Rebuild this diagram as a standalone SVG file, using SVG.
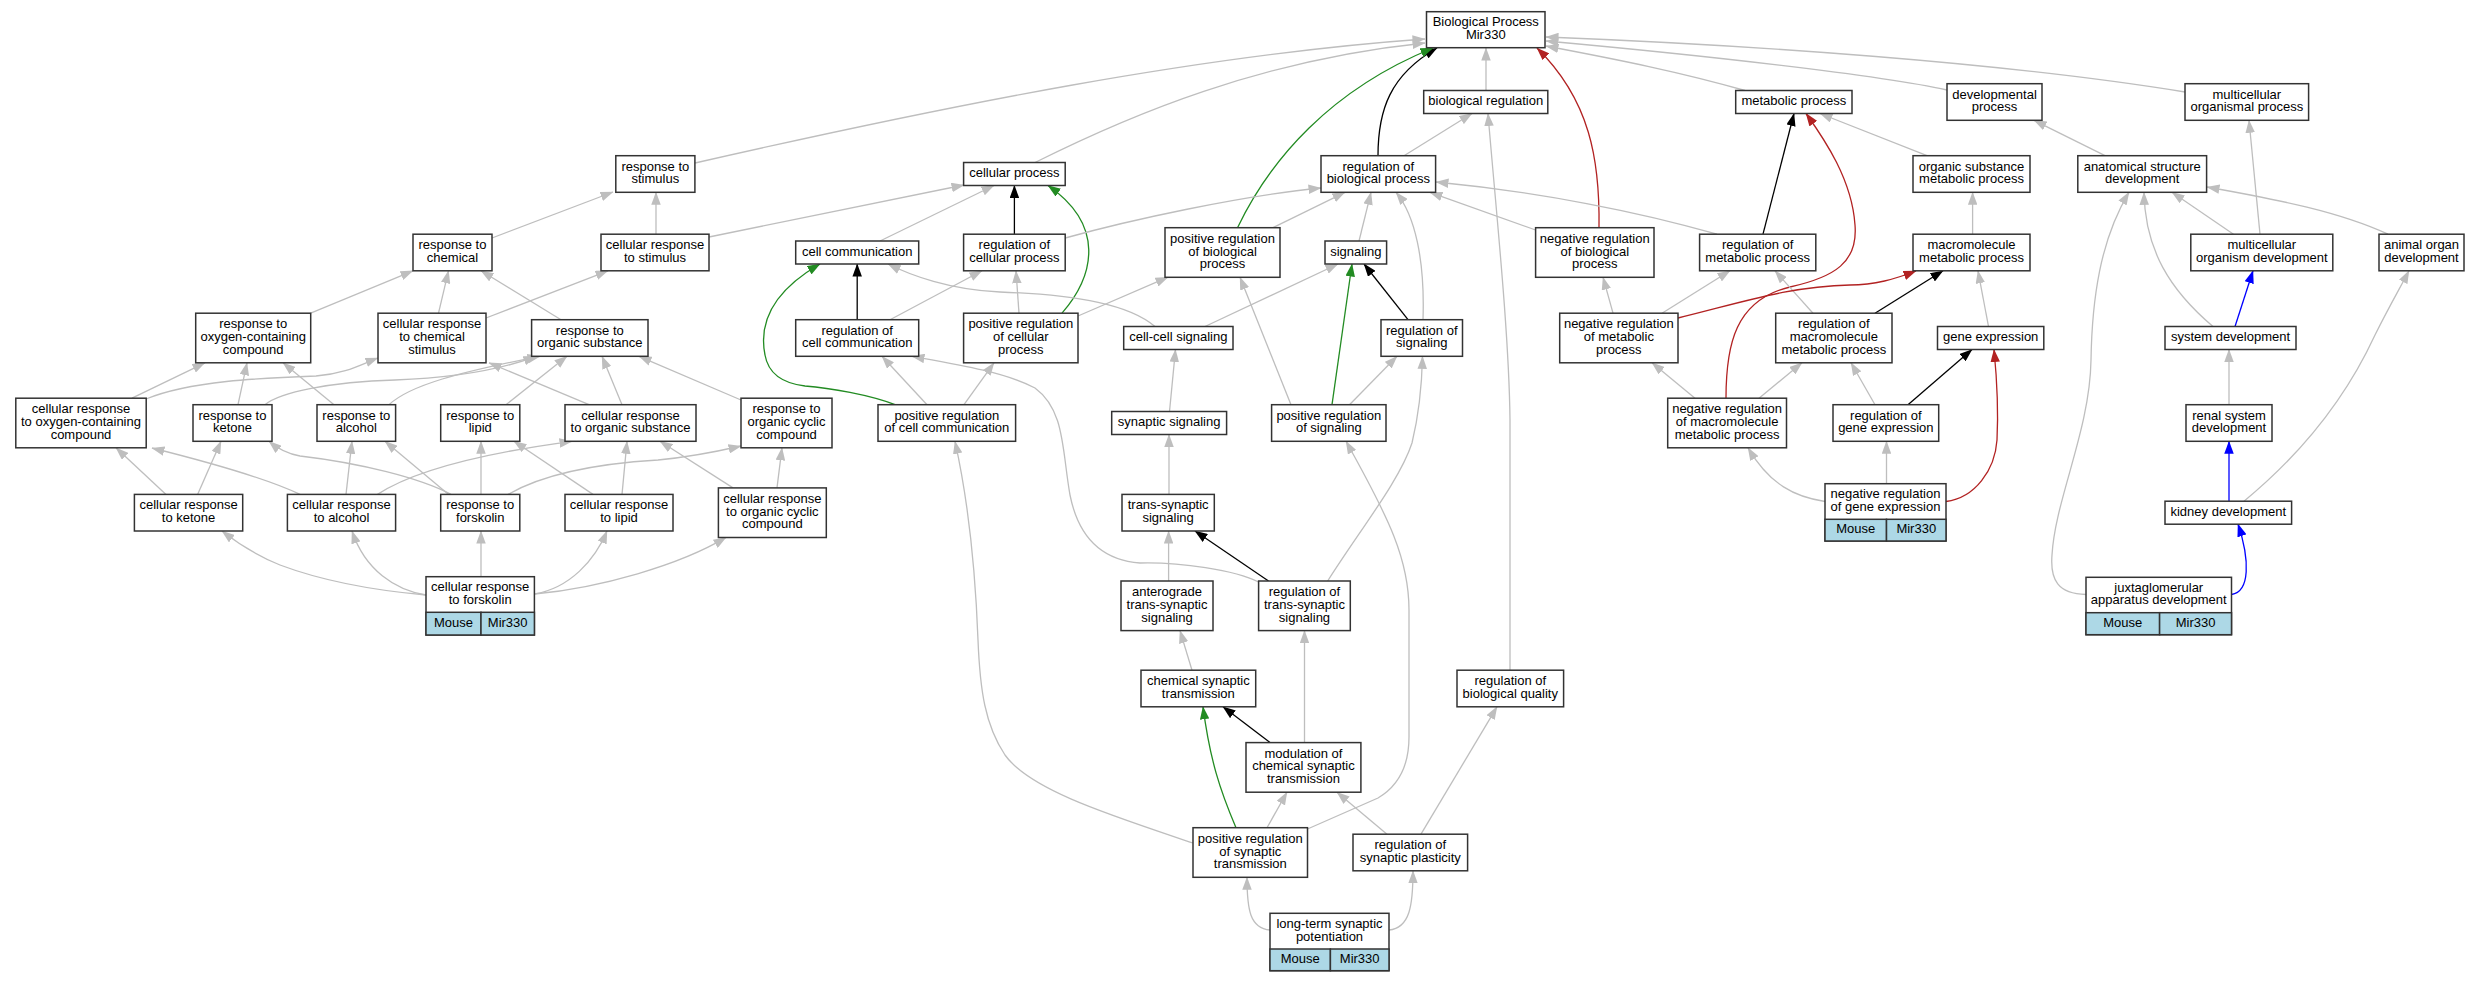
<svg xmlns="http://www.w3.org/2000/svg" width="2477" height="981" viewBox="0 0 2477 981">
<style>
.node rect{fill:#fff;stroke:#333;stroke-width:1.5}
.node rect.cell{fill:#add8e6}
.node text{font-family:"Liberation Sans",Arial,sans-serif;font-size:13px;text-anchor:middle;fill:#000}
#edges path{fill:none;stroke-width:1.3}
#edges .e{stroke:#bebebe;marker-end:url(#mg)}
#edges .k{stroke:#000;marker-end:url(#mk)}
#edges .g{stroke:#228b22;marker-end:url(#mgr)}
#edges .r{stroke:#b22222;marker-end:url(#mr)}
#edges .b{stroke:#0000ff;marker-end:url(#mb)}
</style>
<defs>
<marker id="mg" viewBox="0 0 13 9.5" refX="12.5" refY="4.75" markerWidth="13" markerHeight="9.5" markerUnits="userSpaceOnUse" orient="auto"><path d="M0,0L13,4.75L0,9.5z" fill="#bebebe"/></marker>
<marker id="mk" viewBox="0 0 13 9.5" refX="12.5" refY="4.75" markerWidth="13" markerHeight="9.5" markerUnits="userSpaceOnUse" orient="auto"><path d="M0,0L13,4.75L0,9.5z" fill="#000"/></marker>
<marker id="mgr" viewBox="0 0 13 9.5" refX="12.5" refY="4.75" markerWidth="13" markerHeight="9.5" markerUnits="userSpaceOnUse" orient="auto"><path d="M0,0L13,4.75L0,9.5z" fill="#228b22"/></marker>
<marker id="mr" viewBox="0 0 13 9.5" refX="12.5" refY="4.75" markerWidth="13" markerHeight="9.5" markerUnits="userSpaceOnUse" orient="auto"><path d="M0,0L13,4.75L0,9.5z" fill="#b22222"/></marker>
<marker id="mb" viewBox="0 0 13 9.5" refX="12.5" refY="4.75" markerWidth="13" markerHeight="9.5" markerUnits="userSpaceOnUse" orient="auto"><path d="M0,0L13,4.75L0,9.5z" fill="#0000ff"/></marker>
</defs>
<rect width="2477" height="981" fill="#fff"/>
<g id="edges">
<path class="e" d="M695,163 C950,105 1200,55 1425,39"/>
<path class="e" d="M1035,162.5 C1130,115 1260,60 1425,43"/>
<path class="e" d="M1486,90.5 L1486,48"/>
<path class="k" d="M1378,155.7 C1378,110 1390,75 1437,48"/>
<path class="g" d="M1237.5,227.7 C1270,160 1330,90 1433,48"/>
<path class="r" d="M1599,227.7 C1600,160 1590,100 1537,48"/>
<path class="e" d="M1745,90.5 C1680,72 1620,60 1546,46"/>
<path class="e" d="M1947,90 C1880,75 1700,55 1546,41"/>
<path class="e" d="M2185,92 C2000,62 1750,45 1546,37"/>
<path class="e" d="M1404,155.7 L1472,113.5"/>
<path class="e" d="M1510,670.2 L1510,420 C1509,330 1495,200 1488,113.5"/>
<path class="k" d="M1763,234.2 L1794,113.5"/>
<path class="r" d="M1726,398.2 C1726,345 1735,300 1790,287 C1835,277 1858,262 1855,225 C1852,180 1825,140 1806,113.5"/>
<path class="e" d="M1927,155.7 L1820,113.5"/>
<path class="e" d="M2105,155.7 L2034,120.3"/>
<path class="e" d="M2260,234.2 L2249,120.3"/>
<path class="e" d="M492,238 L613,192"/>
<path class="e" d="M656,234.2 L656,192.3"/>
<path class="e" d="M709,237 L964,185"/>
<path class="e" d="M880,241 L994,185.5"/>
<path class="k" d="M1014.4,234.2 L1014.4,185.5"/>
<path class="g" d="M1062,313.2 C1095,275 1105,225 1048,185.5"/>
<path class="e" d="M1065.2,238 C1130,220 1240,196 1321,188"/>
<path class="e" d="M1273,227.7 L1345,192.3"/>
<path class="e" d="M1359,241 L1371,192.3"/>
<path class="e" d="M1423,319.7 C1425,260 1415,215 1396,192.3"/>
<path class="e" d="M1535.6,230 L1430,192.3"/>
<path class="e" d="M1717,234.2 C1640,212 1540,192 1436,182"/>
<path class="e" d="M1972.6,234.2 L1972.6,192.3"/>
<path class="e" d="M2233.5,234.2 L2172,192.3"/>
<path class="e" d="M2388,234.2 C2340,212 2280,200 2207,187"/>
<path class="e" d="M2213,326.5 C2170,290 2145,250 2144,192.3"/>
<path class="e" d="M2086,594.5 C2058,594 2050,580 2052,555 C2055,500 2090,430 2091,360 C2092,300 2100,240 2129,192.3"/>
<path class="e" d="M310.7,313.2 L413,270.8"/>
<path class="e" d="M438.5,313.2 L448.5,270.8"/>
<path class="e" d="M561,319.7 L481,270.8"/>
<path class="e" d="M486,318 L608,270.8"/>
<path class="k" d="M857.2,319.7 L857.2,264"/>
<path class="g" d="M895,404.7 C870,395 830,388 805,386 C780,383 768,372 765,355 C758,320 775,290 820,264"/>
<path class="e" d="M1155,326.5 C1130,305 1080,295 1000,292 C950,290 910,275 888,264"/>
<path class="e" d="M890,319.7 L982,270.8"/>
<path class="e" d="M1019,313.2 L1016,270.8"/>
<path class="e" d="M1078,316 L1168,277.2"/>
<path class="e" d="M1291,404.7 L1240,277.2"/>
<path class="e" d="M1205,326.5 L1338,264"/>
<path class="g" d="M1332,404.7 L1352,264"/>
<path class="k" d="M1408,319.7 L1364,264"/>
<path class="e" d="M1613,313.2 L1603,277.2"/>
<path class="e" d="M1662,313.2 L1730,270.8"/>
<path class="e" d="M1813,313.2 L1775,270.8"/>
<path class="k" d="M1875,313.2 L1943,270.8"/>
<path class="e" d="M1988.5,326.5 L1978,270.8"/>
<path class="r" d="M1678,318 C1740,303 1790,286 1850,285 C1875,285 1895,279 1916,271"/>
<path class="b" d="M2235,326.5 L2253,270.8"/>
<path class="e" d="M2244,501.2 C2300,455 2345,400 2375,335 C2390,305 2400,288 2409,270.8"/>
<path class="e" d="M132,398.2 L205,362.8"/>
<path class="e" d="M238,404.7 L247,362.8"/>
<path class="e" d="M334,404.7 L283,362.8"/>
<path class="e" d="M146,399 C190,381 260,378 316,376 C345,374 362,364 378,358"/>
<path class="e" d="M589,404.7 L489,362.8"/>
<path class="e" d="M265,404.7 C280,392 330,382 395,380 C450,378 500,370 536,356.3"/>
<path class="e" d="M389,404.7 C410,385 460,372 540,356.3"/>
<path class="e" d="M506,404.7 L567,356.3"/>
<path class="e" d="M622,404.7 L602,356.3"/>
<path class="e" d="M741,400 L639,356.3"/>
<path class="e" d="M927,404.7 L882,356.3"/>
<path class="e" d="M1258.6,582 C1235,570 1180,562 1140,563 C1100,560 1078,535 1070,495 C1062,450 1065,410 1035,388 C1005,372 955,364 912,356.3"/>
<path class="e" d="M964,404.7 L994,362.8"/>
<path class="e" d="M1169.5,411.5 L1175.5,349.5"/>
<path class="e" d="M1349.5,404.7 L1397,356.3"/>
<path class="e" d="M1327.7,581 C1360,530 1400,480 1412,443 C1420,410 1422,380 1422.5,356.3"/>
<path class="e" d="M1695,398.2 L1652,362.8"/>
<path class="e" d="M1759,398.2 L1802,362.8"/>
<path class="e" d="M1875,404.7 L1851,362.8"/>
<path class="k" d="M1908,404.7 L1972,349.5"/>
<path class="r" d="M1946,501.5 C1975,498 1995,470 1997,440 C1999,400 1996,370 1994,349.5"/>
<path class="e" d="M2229,404.7 L2229,349.5"/>
<path class="e" d="M166,494.4 L116,447.8"/>
<path class="e" d="M300,494.4 C270,480 220,465 152,448"/>
<path class="e" d="M197.6,494.4 L221,441.3"/>
<path class="e" d="M451,494.4 C420,478 360,463 300,456 C288,454 278,449 269,441.3"/>
<path class="e" d="M346,494.4 L352,441.3"/>
<path class="e" d="M448.6,494.4 L385,441.3"/>
<path class="e" d="M481,494.4 L481,441.3"/>
<path class="e" d="M593,494.4 L514,441.3"/>
<path class="e" d="M377.5,494.4 C410,473 470,455 572,441.3"/>
<path class="e" d="M622,494.4 L627,441.3"/>
<path class="e" d="M733,487.9 L660,441.3"/>
<path class="e" d="M508,494.4 C540,476 590,464 658,460 C690,457 715,452 741,446"/>
<path class="e" d="M777,487.9 L782,447.8"/>
<path class="e" d="M1193,843 C1110,815 1030,790 1005,755 C985,725 980,690 978,640 C975,560 968,500 955,441.3"/>
<path class="e" d="M1307.5,829 L1378,798 C1400,785 1409,765 1409,737 L1409,610 C1409,560 1390,520 1346,441.3"/>
<path class="e" d="M1169,494.4 L1169,434.5"/>
<path class="e" d="M1825,501.5 C1795,497 1770,485 1748,447.8"/>
<path class="e" d="M1886.5,483.7 L1886.5,441.3"/>
<path class="b" d="M2229,501.2 L2229,441.3"/>
<path class="e" d="M426,595 C370,590 320,580 280,565 C260,557 240,545 222,531"/>
<path class="e" d="M426,595 C395,590 365,570 352,531"/>
<path class="e" d="M481,576.7 L481,531"/>
<path class="e" d="M534.4,594 C570,588 595,560 607,531"/>
<path class="e" d="M534.4,594 C600,588 680,565 726,537.4"/>
<path class="e" d="M1168.6,581 L1168.6,531"/>
<path class="k" d="M1268.5,581 L1195,531"/>
<path class="b" d="M2231.5,594.5 C2250,592 2250,560 2238,524"/>
<path class="e" d="M1192,670.2 L1180,630.6"/>
<path class="e" d="M1304.5,742.6 L1304.5,630.6"/>
<path class="g" d="M1236,827.7 C1220,790 1210,760 1203,706.8"/>
<path class="k" d="M1270,742.6 L1223,706.8"/>
<path class="e" d="M1421,834.2 L1497,706.8"/>
<path class="e" d="M1267,827.7 L1287,792.2"/>
<path class="e" d="M1387,834.2 L1337,792.2"/>
<path class="e" d="M1270,930 C1250,928 1247,910 1247,877.3"/>
<path class="e" d="M1389,930 C1410,928 1413,905 1413,870.8"/>
</g>
<g id="n1" class="node"><rect x="1426.5" y="11.7" width="118.5" height="36"/><text x="1485.75" y="26.4">Biological Process</text><text x="1485.75" y="39.1">Mir330</text></g>
<g id="n2" class="node"><rect x="1423.7" y="90.5" width="124.1" height="23"/><text x="1485.75" y="105.2">biological regulation</text></g>
<g id="n3" class="node"><rect x="1735.7" y="90.5" width="116.3" height="23"/><text x="1793.85" y="105.2">metabolic process</text></g>
<g id="n4" class="node"><rect x="1947" y="83.7" width="95" height="36.6"/><text x="1994.5" y="98.7">developmental</text><text x="1994.5" y="111.4">process</text></g>
<g id="n5" class="node"><rect x="2185" y="83.7" width="123.6" height="36.6"/><text x="2246.8" y="98.7">multicellular</text><text x="2246.8" y="111.4">organismal process</text></g>
<g id="n6" class="node"><rect x="615.8" y="155.7" width="79.1" height="36.6"/><text x="655.35" y="170.7">response to</text><text x="655.35" y="183.4">stimulus</text></g>
<g id="n7" class="node"><rect x="963.6" y="162.5" width="101.6" height="23"/><text x="1014.4" y="177.2">cellular process</text></g>
<g id="n8" class="node"><rect x="1321" y="155.7" width="114.6" height="36.6"/><text x="1378.3" y="170.7">regulation of</text><text x="1378.3" y="183.4">biological process</text></g>
<g id="n9" class="node"><rect x="1913" y="155.7" width="117" height="36.6"/><text x="1971.5" y="170.7">organic substance</text><text x="1971.5" y="183.4">metabolic process</text></g>
<g id="n10" class="node"><rect x="2077.8" y="155.7" width="128.8" height="36.6"/><text x="2142.2" y="170.7">anatomical structure</text><text x="2142.2" y="183.4">development</text></g>
<g id="n11" class="node"><rect x="413" y="234.2" width="79" height="36.6"/><text x="452.5" y="249.2">response to</text><text x="452.5" y="261.9">chemical</text></g>
<g id="n12" class="node"><rect x="601" y="234.2" width="108" height="36.6"/><text x="655" y="249.2">cellular response</text><text x="655" y="261.9">to stimulus</text></g>
<g id="n13" class="node"><rect x="795.7" y="241" width="123" height="23"/><text x="857.2" y="255.7">cell communication</text></g>
<g id="n14" class="node"><rect x="963.6" y="234.2" width="101.6" height="36.6"/><text x="1014.4" y="249.2">regulation of</text><text x="1014.4" y="261.9">cellular process</text></g>
<g id="n15" class="node"><rect x="1165" y="227.7" width="115" height="49.6"/><text x="1222.5" y="242.8">positive regulation</text><text x="1222.5" y="255.5">of biological</text><text x="1222.5" y="268.2">process</text></g>
<g id="n16" class="node"><rect x="1325" y="241" width="61.6" height="23"/><text x="1355.8" y="255.7">signaling</text></g>
<g id="n17" class="node"><rect x="1535.6" y="227.7" width="118.4" height="49.6"/><text x="1594.8" y="242.8">negative regulation</text><text x="1594.8" y="255.5">of biological</text><text x="1594.8" y="268.2">process</text></g>
<g id="n18" class="node"><rect x="1699.6" y="234.2" width="116.2" height="36.6"/><text x="1757.7" y="249.2">regulation of</text><text x="1757.7" y="261.9">metabolic process</text></g>
<g id="n19" class="node"><rect x="1913" y="234.2" width="117" height="36.6"/><text x="1971.5" y="249.2">macromolecule</text><text x="1971.5" y="261.9">metabolic process</text></g>
<g id="n20" class="node"><rect x="2190.8" y="234.2" width="142" height="36.6"/><text x="2261.8" y="249.2">multicellular</text><text x="2261.8" y="261.9">organism development</text></g>
<g id="n21" class="node"><rect x="2379" y="234.2" width="85" height="36.6"/><text x="2421.5" y="249.2">animal organ</text><text x="2421.5" y="261.9">development</text></g>
<g id="n22" class="node"><rect x="195.7" y="313.2" width="115" height="49.6"/><text x="253.2" y="328.3">response to</text><text x="253.2" y="341">oxygen-containing</text><text x="253.2" y="353.7">compound</text></g>
<g id="n23" class="node"><rect x="378" y="313.2" width="108" height="49.6"/><text x="432" y="328.3">cellular response</text><text x="432" y="341">to chemical</text><text x="432" y="353.7">stimulus</text></g>
<g id="n24" class="node"><rect x="531.6" y="319.7" width="116.4" height="36.6"/><text x="589.8" y="334.7">response to</text><text x="589.8" y="347.4">organic substance</text></g>
<g id="n25" class="node"><rect x="795.7" y="319.7" width="123" height="36.6"/><text x="857.2" y="334.7">regulation of</text><text x="857.2" y="347.4">cell communication</text></g>
<g id="n26" class="node"><rect x="963.6" y="313.2" width="114.4" height="49.6"/><text x="1020.8" y="328.3">positive regulation</text><text x="1020.8" y="341">of cellular</text><text x="1020.8" y="353.7">process</text></g>
<g id="n27" class="node"><rect x="1123.7" y="326.5" width="109.3" height="23"/><text x="1178.35" y="341.2">cell-cell signaling</text></g>
<g id="n28" class="node"><rect x="1381" y="319.7" width="81.5" height="36.6"/><text x="1421.75" y="334.7">regulation of</text><text x="1421.75" y="347.4">signaling</text></g>
<g id="n29" class="node"><rect x="1559.7" y="313.2" width="118.3" height="49.6"/><text x="1618.85" y="328.3">negative regulation</text><text x="1618.85" y="341">of metabolic</text><text x="1618.85" y="353.7">process</text></g>
<g id="n30" class="node"><rect x="1775.7" y="313.2" width="116.3" height="49.6"/><text x="1833.85" y="328.3">regulation of</text><text x="1833.85" y="341">macromolecule</text><text x="1833.85" y="353.7">metabolic process</text></g>
<g id="n31" class="node"><rect x="1937.5" y="326.5" width="106.3" height="23"/><text x="1990.65" y="341.2">gene expression</text></g>
<g id="n32" class="node"><rect x="2165" y="326.5" width="131" height="23"/><text x="2230.5" y="341.2">system development</text></g>
<g id="n33" class="node"><rect x="15.8" y="398.2" width="130.4" height="49.6"/><text x="81" y="413.3">cellular response</text><text x="81" y="426">to oxygen-containing</text><text x="81" y="438.7">compound</text></g>
<g id="n34" class="node"><rect x="193" y="404.7" width="79" height="36.6"/><text x="232.5" y="419.7">response to</text><text x="232.5" y="432.4">ketone</text></g>
<g id="n35" class="node"><rect x="317" y="404.7" width="78.6" height="36.6"/><text x="356.3" y="419.7">response to</text><text x="356.3" y="432.4">alcohol</text></g>
<g id="n36" class="node"><rect x="440.7" y="404.7" width="79.1" height="36.6"/><text x="480.25" y="419.7">response to</text><text x="480.25" y="432.4">lipid</text></g>
<g id="n37" class="node"><rect x="565" y="404.7" width="131" height="36.6"/><text x="630.5" y="419.7">cellular response</text><text x="630.5" y="432.4">to organic substance</text></g>
<g id="n38" class="node"><rect x="741" y="398.2" width="91" height="49.6"/><text x="786.5" y="413.3">response to</text><text x="786.5" y="426">organic cyclic</text><text x="786.5" y="438.7">compound</text></g>
<g id="n39" class="node"><rect x="878" y="404.7" width="137.6" height="36.6"/><text x="946.8" y="419.7">positive regulation</text><text x="946.8" y="432.4">of cell communication</text></g>
<g id="n40" class="node"><rect x="1111.7" y="411.5" width="114.9" height="23"/><text x="1169.15" y="426.2">synaptic signaling</text></g>
<g id="n41" class="node"><rect x="1271.6" y="404.7" width="114.4" height="36.6"/><text x="1328.8" y="419.7">positive regulation</text><text x="1328.8" y="432.4">of signaling</text></g>
<g id="n42" class="node"><rect x="1667.7" y="398.2" width="118.8" height="49.6"/><text x="1727.1" y="413.3">negative regulation</text><text x="1727.1" y="426">of macromolecule</text><text x="1727.1" y="438.7">metabolic process</text></g>
<g id="n43" class="node"><rect x="1833" y="404.7" width="105.7" height="36.6"/><text x="1885.85" y="419.7">regulation of</text><text x="1885.85" y="432.4">gene expression</text></g>
<g id="n44" class="node"><rect x="2186" y="404.7" width="86" height="36.6"/><text x="2229" y="419.7">renal system</text><text x="2229" y="432.4">development</text></g>
<g id="n45" class="node"><rect x="134.4" y="494.4" width="108.3" height="36.6"/><text x="188.55" y="509.4">cellular response</text><text x="188.55" y="522.1">to ketone</text></g>
<g id="n46" class="node"><rect x="287.4" y="494.4" width="108.2" height="36.6"/><text x="341.5" y="509.4">cellular response</text><text x="341.5" y="522.1">to alcohol</text></g>
<g id="n47" class="node"><rect x="440.7" y="494.4" width="79.1" height="36.6"/><text x="480.25" y="509.4">response to</text><text x="480.25" y="522.1">forskolin</text></g>
<g id="n48" class="node"><rect x="565" y="494.4" width="108" height="36.6"/><text x="619" y="509.4">cellular response</text><text x="619" y="522.1">to lipid</text></g>
<g id="n49" class="node"><rect x="718.4" y="487.9" width="107.9" height="49.6"/><text x="772.35" y="503">cellular response</text><text x="772.35" y="515.7">to organic cyclic</text><text x="772.35" y="528.4">compound</text></g>
<g id="n50" class="node"><rect x="1122" y="494.4" width="92.3" height="36.6"/><text x="1168.15" y="509.4">trans-synaptic</text><text x="1168.15" y="522.1">signaling</text></g>
<g id="n51" class="node"><rect x="1825" y="483.7" width="121" height="57.3"/><rect class="cell" x="1825" y="519.3" width="61.5" height="21.7"/><rect class="cell" x="1886.5" y="519.3" width="59.5" height="21.7"/><text x="1885.5" y="498.2">negative regulation</text><text x="1885.5" y="510.9">of gene expression</text><text x="1855.75" y="533.3">Mouse</text><text x="1916.25" y="533.3">Mir330</text></g>
<g id="n52" class="node"><rect x="2165" y="501.2" width="126.6" height="23"/><text x="2228.3" y="515.9">kidney development</text></g>
<g id="n53" class="node"><rect x="426" y="576.7" width="108.4" height="58.3"/><rect class="cell" x="426" y="612.3" width="55" height="22.7"/><rect class="cell" x="481" y="612.3" width="53.4" height="22.7"/><text x="480.2" y="591.2">cellular response</text><text x="480.2" y="603.9">to forskolin</text><text x="453.5" y="626.9">Mouse</text><text x="507.7" y="626.9">Mir330</text></g>
<g id="n54" class="node"><rect x="1121" y="581" width="92" height="49.6"/><text x="1167" y="596.1">anterograde</text><text x="1167" y="608.8">trans-synaptic</text><text x="1167" y="621.5">signaling</text></g>
<g id="n55" class="node"><rect x="1258.6" y="581" width="91.7" height="49.6"/><text x="1304.45" y="596.1">regulation of</text><text x="1304.45" y="608.8">trans-synaptic</text><text x="1304.45" y="621.5">signaling</text></g>
<g id="n56" class="node"><rect x="2086" y="577.3" width="145.5" height="57.4"/><rect class="cell" x="2086" y="612.7" width="73.6" height="22"/><rect class="cell" x="2159.6" y="612.7" width="71.9" height="22"/><text x="2158.75" y="591.7">juxtaglomerular</text><text x="2158.75" y="604.4">apparatus development</text><text x="2122.8" y="626.9">Mouse</text><text x="2195.55" y="626.9">Mir330</text></g>
<g id="n57" class="node"><rect x="1141" y="670.2" width="114.7" height="36.6"/><text x="1198.35" y="685.2">chemical synaptic</text><text x="1198.35" y="697.9">transmission</text></g>
<g id="n58" class="node"><rect x="1457" y="670.2" width="106.6" height="36.6"/><text x="1510.3" y="685.2">regulation of</text><text x="1510.3" y="697.9">biological quality</text></g>
<g id="n59" class="node"><rect x="1246" y="742.6" width="114.9" height="49.6"/><text x="1303.45" y="757.7">modulation of</text><text x="1303.45" y="770.4">chemical synaptic</text><text x="1303.45" y="783.1">transmission</text></g>
<g id="n60" class="node"><rect x="1193" y="827.7" width="114.5" height="49.6"/><text x="1250.25" y="842.8">positive regulation</text><text x="1250.25" y="855.5">of synaptic</text><text x="1250.25" y="868.2">transmission</text></g>
<g id="n61" class="node"><rect x="1353" y="834.2" width="114.6" height="36.6"/><text x="1410.3" y="849.2">regulation of</text><text x="1410.3" y="861.9">synaptic plasticity</text></g>
<g id="n62" class="node"><rect x="1270" y="913.3" width="119" height="57.4"/><rect class="cell" x="1270" y="949" width="60.4" height="21.7"/><rect class="cell" x="1330.4" y="949" width="58.6" height="21.7"/><text x="1329.5" y="927.9">long-term synaptic</text><text x="1329.5" y="940.6">potentiation</text><text x="1300.2" y="963.1">Mouse</text><text x="1359.7" y="963.1">Mir330</text></g>
</svg>
